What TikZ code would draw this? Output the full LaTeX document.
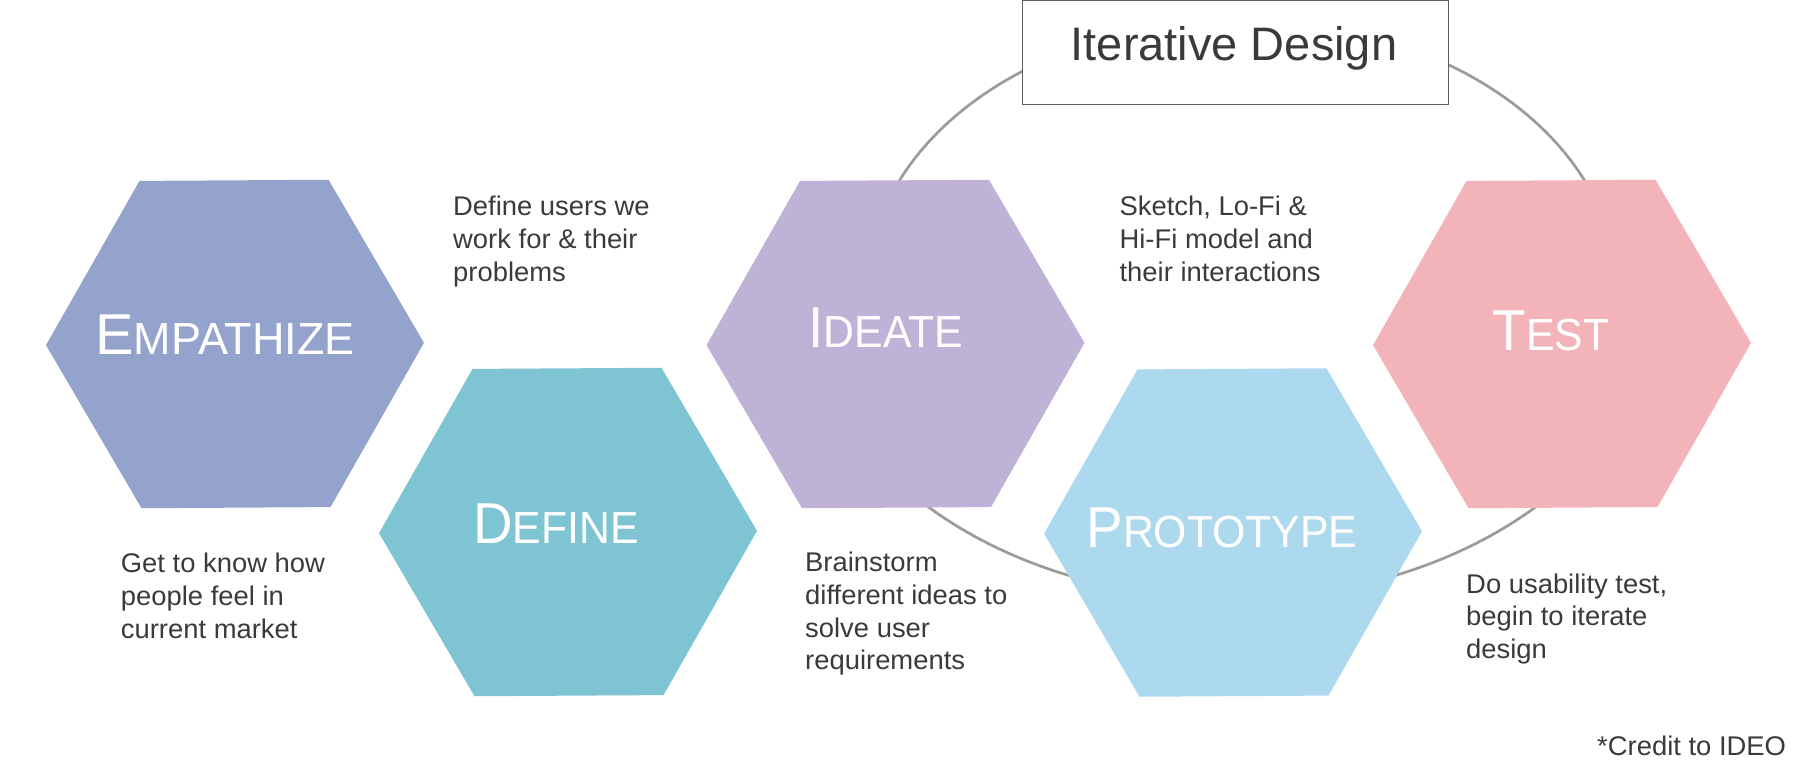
\documentclass[tikz,border=0pt]{standalone}
\usepackage{fontspec}
\setmainfont{Liberation Sans}
\newfontfamily\labfont[FakeStretch=0.95]{Liberation Sans}
\newfontfamily\labfontwide{Liberation Sans}
\newfontfamily\bodyfont[FakeStretch=1.015]{Liberation Sans}
\usetikzlibrary{calc}
\definecolor{empc}{HTML}{93A3CB}
\definecolor{defc}{HTML}{7EC4D3}
\definecolor{ideac}{HTML}{BEB2D6}
\definecolor{protc}{HTML}{ADD9EF}
\definecolor{testc}{HTML}{F3B4B9}
\definecolor{txtc}{HTML}{3A3A3A}
\definecolor{ringc}{HTML}{9B9B9B}
\definecolor{boxc}{HTML}{5E5E5E}
\newcommand\hexr{189}
\newcommand\drawhex[3]{%
  \coordinate (#1) at (#2);
  \fill[#3] ($(#1)+(-0.35:\hexr)$)
    \foreach \k in {1,...,5}{ -- ($(#1)+({\k*60-0.35}:\hexr)$) } -- cycle;
}
\newcommand\biglab[2]{{\fontsize{57.7}{60}\selectfont #1}{\fontsize{45}{50}\selectfont #2}}
\begin{document}
\begin{tikzpicture}[x=1pt,y=-1pt,
  body/.style={anchor=base west, inner sep=0pt, text=txtc, font=\bodyfont\fontsize{27}{32.8}\selectfont},
  lab/.style={anchor=base, inner sep=0pt, text=white, font=\labfont},
  ring/.style={draw=ringc, line width=2.7pt},
  titlebox/.style={draw=boxc, line width=1.5pt, fill=white, inner sep=0pt}]
\useasboundingbox (0,0) rectangle (1798,776);
% iterative loop (upper and lower halves, joined behind the hexagons)
\draw[ring] plot[domain=180:360, samples=120, smooth] ({1242+374.8*cos(\x)}, {290+269.9*sin(\x)});
\draw[ring] plot[domain=0:180, samples=120, smooth] ({1232+426.4*cos(\x)}, {290+309*sin(\x)});
% hexagons
\drawhex{E}{235,344}{empc}
\drawhex{D}{568,532}{defc}
\drawhex{I}{895.5,344}{ideac}
\drawhex{P}{1233,532.5}{protc}
\drawhex{T}{1562,344}{testc}
% title box
\node[titlebox, minimum width=426.4pt, minimum height=103.8pt] (box) at (1235.5,52.4) {};
\node[anchor=base, inner sep=0pt, text=txtc, font=\fontsize{47}{50}\selectfont] (title) at (1234,60.7) {Iterative Design};
% hexagon labels
\node[lab, font=\labfontwide] (lE) at (225,354) {\biglab{E}{MPATHIZE}};
\node[lab] (lD) at (556,543) {\biglab{D}{EFINE}};
\node[lab] (lI) at (886,347) {\biglab{I}{DEATE}};
\node[lab] (lP) at (1222,547) {\biglab{P}{ROTOTYPE}};
\node[lab] (lT) at (1551,350) {\biglab{T}{EST}};
% descriptions
\node[body] (dE) at (120.7,572.7) {\begin{tabular}[t]{@{}l@{}}Get to know how\\people feel in\\current market\end{tabular}};
\node[body] (dD) at (453,215.5) {\begin{tabular}[t]{@{}l@{}}Define users we\\work for \& their\\problems\end{tabular}};
\node[body] (dI) at (805,571.4) {\begin{tabular}[t]{@{}l@{}}Brainstorm\\different ideas to\\solve user\\requirements\end{tabular}};
\node[body] (dP) at (1119.4,215.8) {\begin{tabular}[t]{@{}l@{}}Sketch, Lo-Fi \&\\Hi-Fi model and\\their interactions\end{tabular}};
\node[body] (dT) at (1466,593) {\begin{tabular}[t]{@{}l@{}}Do usability test,\\begin to iterate\\design\end{tabular}};
\node[body] (credit) at (1597,755.6) {*Credit to IDEO};
\end{tikzpicture}
\end{document}
